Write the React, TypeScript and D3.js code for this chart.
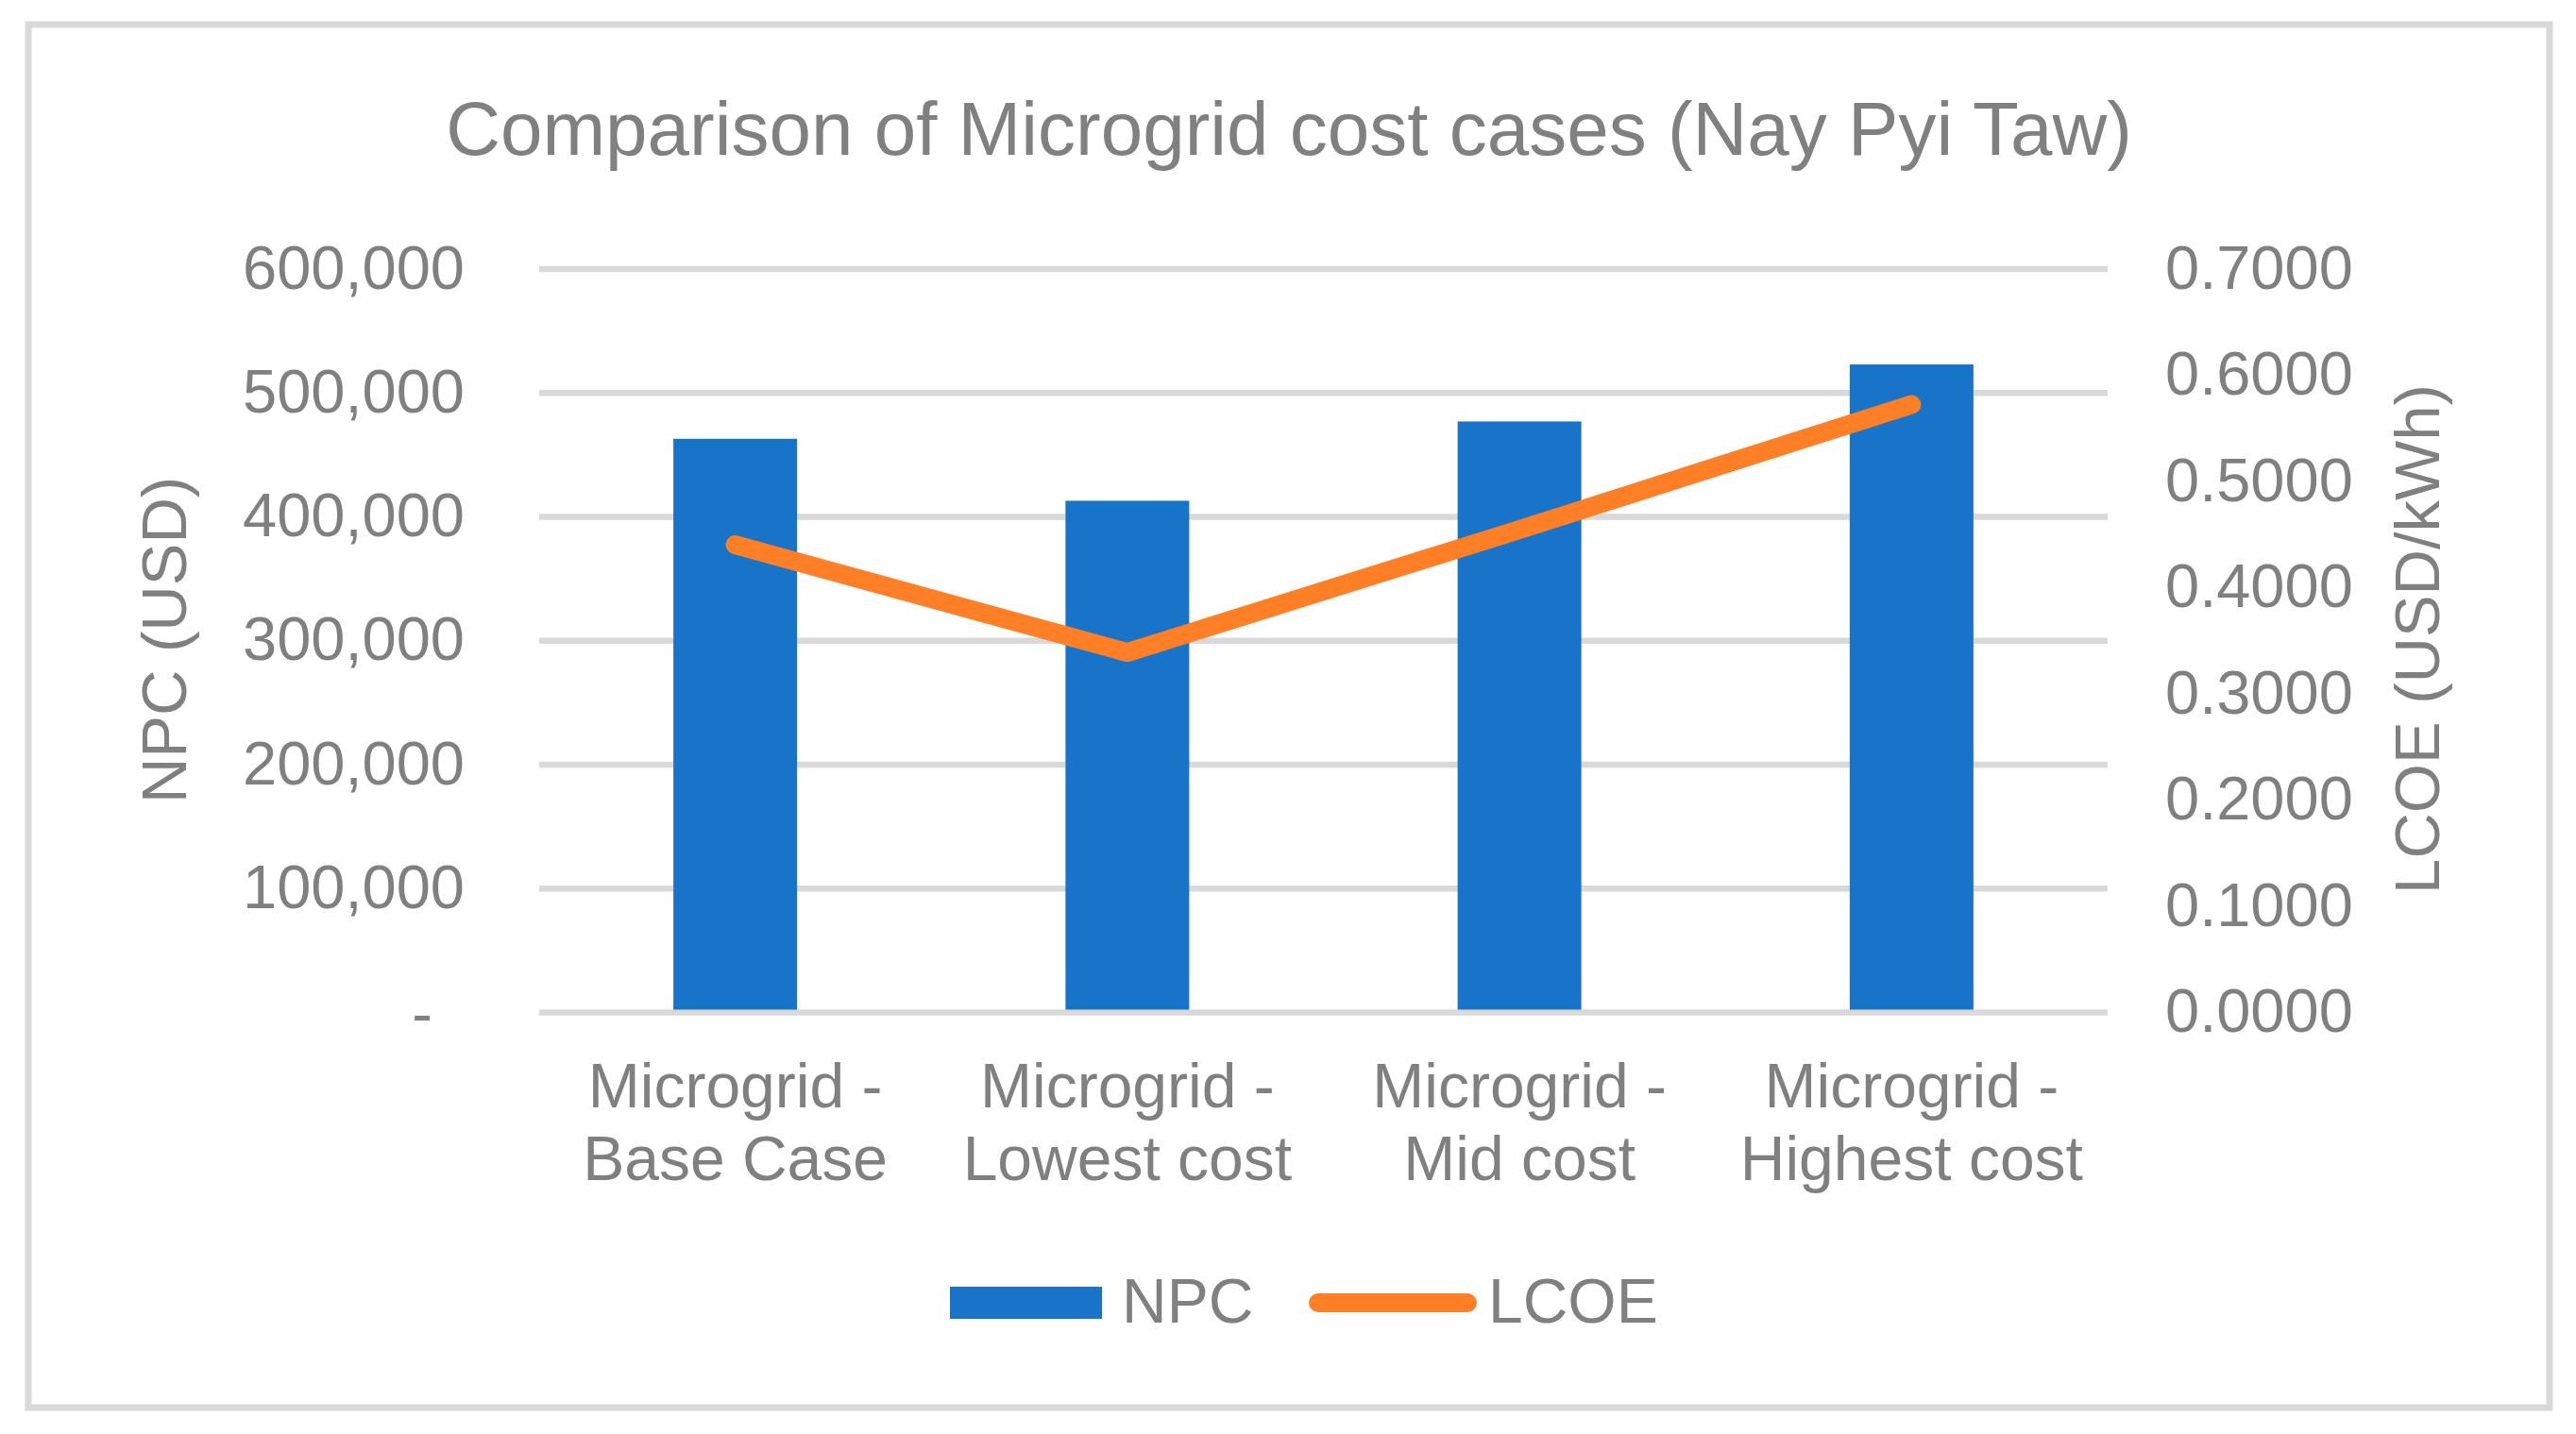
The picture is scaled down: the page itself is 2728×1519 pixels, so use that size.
import React from "react";
import * as d3 from "d3";

const categories: string[][] = [
  ["Microgrid -", "Base Case"],
  ["Microgrid -", "Lowest cost"],
  ["Microgrid -", "Mid cost"],
  ["Microgrid -", "Highest cost"],
];
const npcValues: number[] = [463000, 413000, 477000, 523000];
const lcoeValues: number[] = [0.4404, 0.339, 0.4547, 0.5724];
const leftTicks: number[] = [0, 100000, 200000, 300000, 400000, 500000, 600000];
const rightTicks: number[] = [0, 0.1, 0.2, 0.3, 0.4, 0.5, 0.6, 0.7];
const titleText = "Comparison of Microgrid cost cases (Nay Pyi Taw)";
const leftAxisTitle = "NPC (USD)";
const rightAxisTitle = "LCOE (USD/kWh)";
const seriesNames = ["NPC", "LCOE"];

const W = 2728;
const H = 1519;
const FONT = "'Liberation Sans', Arial, Helvetica, sans-serif";
const TEXT = "#808080";
const GRID = "#D9D9D9";
const BLUE = "#1874C8";
const ORANGE = "#FF7F27";

export default function App() {
  const plotLeft = 571;
  const plotRight = 2232;
  const plotTop = 285;
  const plotBottom = 1072.5;

  const x = d3
    .scaleBand<number>()
    .domain(categories.map((_, i) => i))
    .range([plotLeft, plotRight])
    .padding(0);
  const barW = x.bandwidth() * 0.3155;
  const yL = d3.scaleLinear().domain([0, 600000]).range([plotBottom, plotTop]);
  const yR = d3.scaleLinear().domain([0, 0.7]).range([plotBottom, plotTop]);
  const fmtL = d3.format(",");
  const fmtR = d3.format(".4f");

  const line = d3
    .line<number>()
    .x((_, i) => (x(i) as number) + x.bandwidth() / 2)
    .y((d) => yR(d));

  return (
    <svg
      width={W}
      height={H}
      viewBox={`0 0 ${W} ${H}`}
      style={{ position: "absolute", left: 0, top: 0, background: "#fff" }}
      fontFamily={FONT}
    >
      <rect x={0} y={0} width={W} height={H} fill="#fff" />
      <rect x={30} y={26} width={2670} height={1465} fill="#fff" stroke={GRID} strokeWidth={7} />

      <text x={1365} y={164} textAnchor="middle" fontSize={80} fill={TEXT}>
        {titleText}
      </text>

      {leftTicks.map((t) => (
        <line
          key={"g" + t}
          x1={plotLeft}
          x2={plotRight}
          y1={yL(t)}
          y2={yL(t)}
          stroke={GRID}
          strokeWidth={6.5}
        />
      ))}

      {leftTicks.map((t) => (
        <text
          key={"l" + t}
          x={t === 0 ? 458 : 492}
          y={yL(t) + (t === 0 ? 23 : 20.5)}
          textAnchor="end"
          fontSize={65}
          fill={TEXT}
        >
          {t === 0 ? "-" : fmtL(t)}
        </text>
      ))}

      {rightTicks.map((t) => (
        <text key={"r" + t} x={2293} y={yR(t) + 20.5} textAnchor="start" fontSize={65} fill={TEXT}>
          {fmtR(t)}
        </text>
      ))}

      {npcValues.map((v, i) => (
        <rect
          key={"b" + i}
          x={(x(i) as number) + x.bandwidth() / 2 - barW / 2}
          y={yL(v)}
          width={barW}
          height={yL(0) - yL(v) - 3}
          fill={BLUE}
        />
      ))}

      <path
        d={line(lcoeValues) || ""}
        fill="none"
        stroke={ORANGE}
        strokeWidth={20}
        strokeLinecap="round"
        strokeLinejoin="round"
      />

      {categories.map((lines, i) => (
        <text
          key={"c" + i}
          x={(x(i) as number) + x.bandwidth() / 2}
          textAnchor="middle"
          fontSize={66}
          fill={TEXT}
        >
          {lines.map((ln, j) => (
            <tspan key={j} x={(x(i) as number) + x.bandwidth() / 2} y={1173 + j * 77}>
              {ln}
            </tspan>
          ))}
        </text>
      ))}

      <text transform="translate(197,678) rotate(-90)" textAnchor="middle" fontSize={67} fill={TEXT}>
        {leftAxisTitle}
      </text>
      <text transform="translate(2583,677) rotate(-90)" textAnchor="middle" fontSize={67} fill={TEXT}>
        {rightAxisTitle}
      </text>

      <rect x={1006} y={1363} width={161} height={34} fill={BLUE} />
      <text x={1188} y={1401} fontSize={66} fill={TEXT}>
        {seriesNames[0]}
      </text>
      <line x1={1396} x2={1554} y1={1380} y2={1380} stroke={ORANGE} strokeWidth={20} strokeLinecap="round" />
      <text x={1576} y={1401} fontSize={66} fill={TEXT}>
        {seriesNames[1]}
      </text>
    </svg>
  );
}
